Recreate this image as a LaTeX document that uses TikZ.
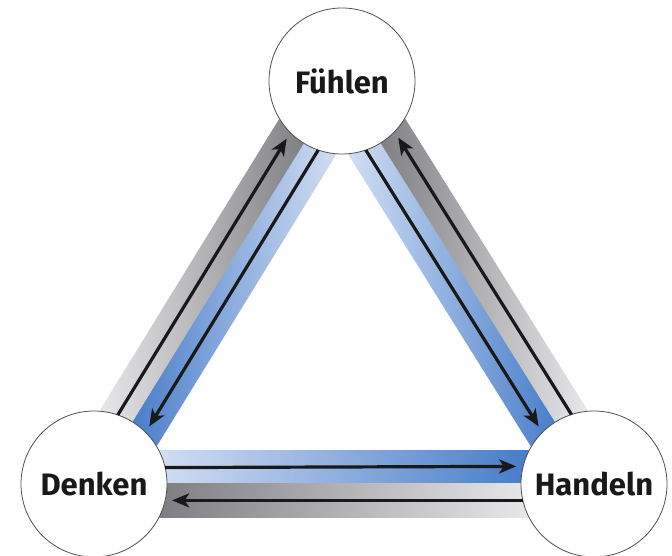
\documentclass[tikz,border=0pt]{standalone}
\usepackage{fontspec}
\setmainfont{Fira Sans}
\usetikzlibrary{arrows.meta}
\definecolor{bluedark}{RGB}{70,124,200}
\definecolor{bluelight}{RGB}{210,222,243}
\definecolor{graydark}{RGB}{126,126,130}
\definecolor{graylight}{RGB}{232,232,234}
\definecolor{ringgray}{RGB}{80,80,80}
\begin{document}
\begin{tikzpicture}[x=1pt,y=1pt,
  circ/.style={circle, draw=ringgray, line width=0.8pt, fill=white,
    minimum size=146pt, inner sep=0pt, outer sep=0pt,
    font=\fontsize{31}{37}\selectfont\bfseries, text=black!90},
  band/.style={rectangle, draw=none, inner sep=0pt, outer sep=0pt,
    minimum height=33.8pt},
  flow/.style={line width=3.2pt, draw=black!90,
    -{Stealth[length=17pt,width=14pt,inset=4.5pt]}, shorten >=7pt},
]
\useasboundingbox (0,0) rectangle (672,555);
% bands: bottom side
\node[band, minimum width=372pt, left color=bluelight, right color=bluedark] (bb) at (344,87.75) {};
\node[band, minimum width=372pt, left color=graydark, right color=graylight] (bg) at (344,54.25) {};
% left side
\node[band, rotate=58.39, minimum width=345pt, left color=bluedark, right color=bluelight] (lb) at (232.27,263.72) {};
\node[band, rotate=58.39, minimum width=345pt, left color=graylight, right color=graydark] (lg) at (203.73,281.28) {};
% right side
\node[band, rotate=-57.98, minimum width=347pt, left color=bluelight, right color=bluedark] (rb) at (453.8,263.62) {};
\node[band, rotate=-57.98, minimum width=347pt, left color=graydark, right color=graylight] (rg) at (482.2,281.38) {};
% circles
\node[circ] (F) at (342,474) {Fühlen};
\node[circ] (D) at (94,71) {Denken};
\node[circ] (H) at (594,71) {Handeln};
% arrows
\draw[flow] (D.13.27) -- (H.166.73);
\draw[flow] (H.193.27) -- (D.-13.27);
\draw[flow] (F.251.66) -- (D.45.12);
\draw[flow] (D.71.66) -- (F.225.12);
\draw[flow] (F.-71.25) -- (H.135.29);
\draw[flow] (H.108.75) -- (F.-44.71);
\end{tikzpicture}
\end{document}
